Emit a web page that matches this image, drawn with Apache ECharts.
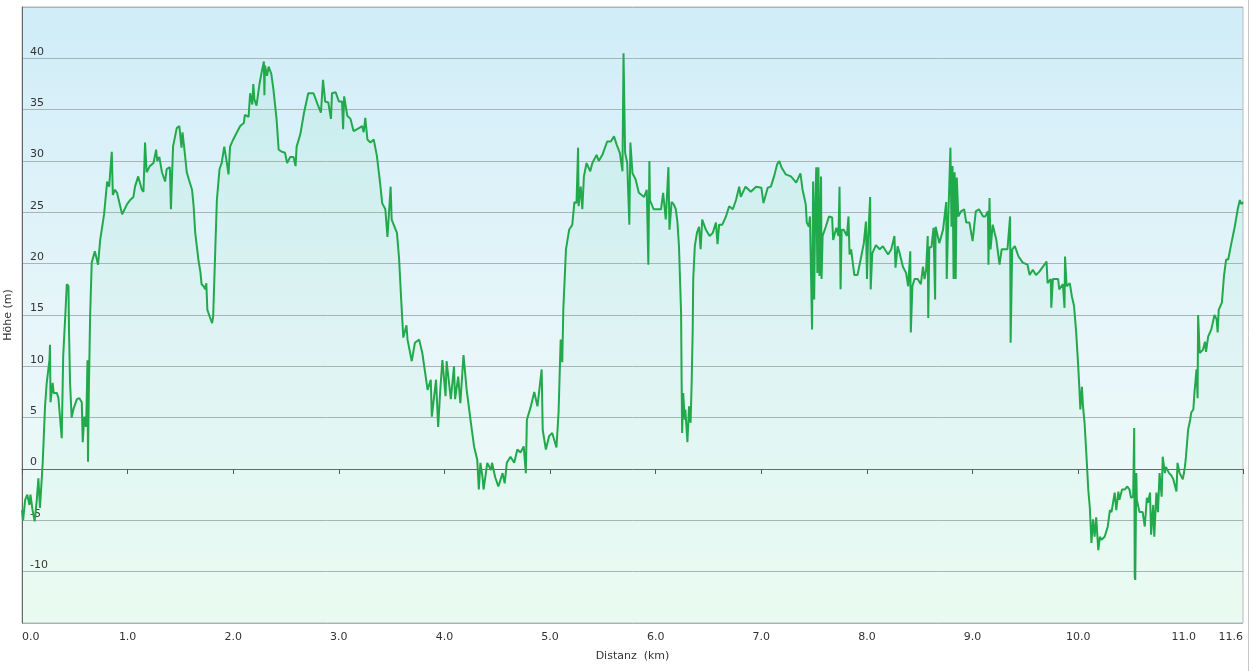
<!DOCTYPE html>
<html>
<head>
<meta charset="utf-8">
<title>Höhenprofil</title>
<script src="https://cdn.jsdelivr.net/npm/echarts@6/dist/echarts.min.js"></script>
<style>
  html, body { margin: 0; padding: 0; background: #fff; }
  #profile { width: 1251px; height: 671px; }
</style>
</head>
<body>
<div id="profile"></div>
<script>
// distance along the track (km)
const distKm = [
  0.00, 0.01, 0.03, 0.05, 0.07, 0.08, 0.10, 0.12, 0.14, 0.155, 0.17, 0.196, 0.218, 0.234, 0.26, 0.265, 0.27, 0.29, 0.30, 0.33,
  0.345, 0.376, 0.39, 0.414, 0.424, 0.44, 0.445, 0.455, 0.47, 0.486, 0.52, 0.543, 0.566, 0.575, 0.59, 0.607, 0.613, 0.62, 0.625, 0.632,
  0.645, 0.66, 0.69, 0.72, 0.74, 0.777, 0.806, 0.825, 0.85, 0.86, 0.88, 0.90, 0.948, 0.995, 1.024, 1.055, 1.07, 1.10, 1.135, 1.15,
  1.165, 1.18, 1.21, 1.245, 1.27, 1.28, 1.30, 1.325, 1.355, 1.37, 1.40, 1.41, 1.43, 1.465, 1.49, 1.51, 1.52, 1.545, 1.56, 1.58,
  1.61, 1.625, 1.64, 1.655, 1.67, 1.69, 1.70, 1.72, 1.735, 1.745, 1.755, 1.775, 1.80, 1.81, 1.83, 1.845, 1.87, 1.89, 1.915, 1.94,
  1.955, 1.97, 2.00, 2.035, 2.066, 2.10, 2.11, 2.145, 2.16, 2.18, 2.19, 2.20, 2.22, 2.25, 2.27, 2.29, 2.295, 2.30, 2.32, 2.335,
  2.36, 2.38, 2.41, 2.43, 2.46, 2.49, 2.51, 2.54, 2.57, 2.59, 2.60, 2.635, 2.67, 2.71, 2.76, 2.80, 2.83, 2.85, 2.87, 2.90,
  2.925, 2.935, 2.97, 3.00, 3.03, 3.04, 3.05, 3.08, 3.11, 3.14, 3.19, 3.22, 3.235, 3.25, 3.27, 3.30, 3.33, 3.36, 3.39, 3.41,
  3.44, 3.46, 3.49, 3.50, 3.55, 3.57, 3.59, 3.61, 3.64, 3.65, 3.69, 3.72, 3.76, 3.79, 3.84, 3.87, 3.88, 3.92, 3.94, 3.96,
  3.98, 4.01, 4.02, 4.06, 4.09, 4.10, 4.13, 4.15, 4.18, 4.21, 4.25, 4.28, 4.31, 4.325, 4.34, 4.36, 4.37, 4.405, 4.44, 4.45,
  4.48, 4.51, 4.55, 4.57, 4.59, 4.625, 4.66, 4.69, 4.72, 4.75, 4.77, 4.78, 4.815, 4.85, 4.88, 4.92, 4.93, 4.96, 4.99, 5.02,
  5.06, 5.08, 5.10, 5.115, 5.125, 5.14, 5.15, 5.18, 5.21, 5.23, 5.25, 5.265, 5.27, 5.29, 5.305, 5.32, 5.345, 5.38, 5.40, 5.44,
  5.46, 5.495, 5.54, 5.575, 5.605, 5.63, 5.66, 5.685, 5.695, 5.71, 5.73, 5.75, 5.76, 5.78, 5.81, 5.84, 5.89, 5.915, 5.93, 5.94,
  5.945, 5.98, 6.05, 6.07, 6.095, 6.12, 6.13, 6.15, 6.17, 6.19, 6.205, 6.22, 6.24, 6.245, 6.25, 6.26, 6.275, 6.28, 6.30, 6.315,
  6.33, 6.34, 6.35, 6.355, 6.37, 6.39, 6.41, 6.425, 6.44, 6.475, 6.51, 6.54, 6.57, 6.585, 6.60, 6.63, 6.665, 6.695, 6.73, 6.76,
  6.79, 6.805, 6.85, 6.90, 6.95, 7.00, 7.02, 7.06, 7.09, 7.12, 7.15, 7.17, 7.19, 7.23, 7.28, 7.33, 7.37, 7.39, 7.42, 7.43,
  7.45, 7.46, 7.48, 7.49, 7.50, 7.51, 7.52, 7.53, 7.54, 7.55, 7.565, 7.57, 7.58, 7.61, 7.64, 7.67, 7.68, 7.71, 7.73, 7.74,
  7.75, 7.76, 7.78, 7.81, 7.825, 7.835, 7.85, 7.88, 7.91, 7.94, 7.97, 7.99, 8.00, 8.01, 8.03, 8.035, 8.05, 8.085, 8.12, 8.15,
  8.20, 8.23, 8.26, 8.27, 8.29, 8.31, 8.34, 8.37, 8.39, 8.41, 8.415, 8.43, 8.45, 8.48, 8.51, 8.53, 8.545, 8.56, 8.575, 8.58,
  8.59, 8.61, 8.63, 8.645, 8.65, 8.685, 8.72, 8.75, 8.755, 8.77, 8.79, 8.80, 8.81, 8.82, 8.83, 8.84, 8.85, 8.865, 8.89, 8.92,
  8.94, 8.97, 9.00, 9.03, 9.06, 9.10, 9.12, 9.145, 9.15, 9.16, 9.17, 9.19, 9.225, 9.255, 9.275, 9.295, 9.33, 9.355, 9.36, 9.375,
  9.40, 9.435, 9.475, 9.52, 9.54, 9.57, 9.60, 9.63, 9.68, 9.70, 9.71, 9.74, 9.745, 9.76, 9.81, 9.82, 9.855, 9.87, 9.875, 9.89,
  9.92, 9.94, 9.96, 9.98, 10.00, 10.01, 10.02, 10.035, 10.045, 10.06, 10.08, 10.095, 10.11, 10.125, 10.14, 10.155, 10.17, 10.19, 10.205, 10.22,
  10.25, 10.28, 10.30, 10.315, 10.345, 10.36, 10.38, 10.39, 10.415, 10.44, 10.465, 10.485, 10.50, 10.52, 10.53, 10.535, 10.54, 10.55, 10.555, 10.58,
  10.61, 10.63, 10.65, 10.66, 10.68, 10.69, 10.71, 10.72, 10.74, 10.755, 10.77, 10.79, 10.80, 10.82, 10.83, 10.86, 10.88, 10.90, 10.93, 10.94,
  10.96, 10.99, 11.01, 11.02, 11.04, 11.06, 11.07, 11.09, 11.10, 11.12, 11.13, 11.135, 11.15, 11.18, 11.20, 11.21, 11.23, 11.26, 11.29, 11.31,
  11.32, 11.33, 11.36, 11.38, 11.40, 11.42, 11.45, 11.48, 11.51, 11.53, 11.545, 11.56
];

// elevation (m)
const elevM = [
  -4, -5, -3, -2.5, -3.5, -2.5, -4, -5.1, -3, -0.9, -3.8, 0.6, 6.1, 8.4, 10.6, 12.1, 6.5, 8.4, 7.4, 7.4,
  6.9, 3.0, 11, 15.8, 18, 17.8, 13.6, 8.4, 5.0, 5.8, 6.8, 6.9, 6.5, 2.6, 5.1, 4.1, 6.9, 10.6, 0.7, 7.1,
  14.9, 20.1, 21.2, 19.9, 22.3, 24.8, 28, 27.5, 30.9, 26.7, 27.2, 26.9, 24.8, 25.8, 26.2, 26.5, 27.5, 28.5, 27.2, 27,
  31.8, 28.9, 29.5, 29.8, 31.1, 30, 30.4, 28.9, 28, 29.2, 29.4, 25.3, 31.4, 33.2, 33.4, 31.3, 32.8, 30.4, 28.9, 28.2,
  27.2, 25.6, 23, 21.7, 20.4, 19.1, 18, 17.8, 17.5, 18.1, 15.5, 14.9, 14.2, 14.9, 21.4, 26.2, 29.2, 29.8, 31.4, 29.8,
  28.7, 31.4, 32.1, 32.8, 33.4, 33.7, 34.5, 34.3, 36.6, 35.5, 37.5, 36, 35.4, 37.6, 38.7, 39.7, 36.4, 39.3, 38.3, 39.2,
  38.5, 37.0, 34.1, 31.1, 30.9, 30.8, 29.8, 30.4, 30.4, 29.5, 31.4, 32.6, 34.7, 36.6, 36.6, 35.5, 34.7, 37.9, 35.8, 35.7,
  34.1, 36.6, 36.7, 35.8, 35.8, 33.1, 36.3, 34.4, 34.1, 32.9, 33.2, 33.4, 32.8, 34.2, 32.1, 31.8, 32.1, 30.5, 27.9, 25.9,
  25.3, 22.6, 27.5, 24.3, 23, 20.5, 16.5, 12.8, 14.0, 12.6, 10.5, 12.3, 12.6, 11.3, 7.7, 8.7, 5.1, 8.7, 4.1, 7.7,
  10.6, 7.1, 10.5, 6.8, 10.0, 6.8, 9.0, 6.4, 11.1, 7.7, 4.5, 2.2, 0.9, -2, 0.6, -0.8, -2, 0.6, -0.1, 0.6,
  -0.8, -1.7, -0.4, -1.4, 0.6, 1.2, 0.6, 1.9, 1.6, 2.2, -0.4, 4.8, 6.0, 7.5, 6.1, 9.7, 3.8, 1.9, 3.2, 3.5,
  2.1, 5.5, 12.6, 10.4, 15.6, 19, 21.4, 23.3, 23.8, 26.0, 25.9, 31.3, 25.6, 27.5, 25.3, 28.5, 29.8, 29, 29.8, 30.6,
  30, 30.6, 31.9, 31.9, 32.4, 31.6, 30.8, 29, 40.5, 30.8, 29.8, 23.8, 31.8, 28.8, 28.2, 26.9, 26.5, 27.2, 19.9, 30,
  26.2, 25.3, 25.3, 26.9, 24.3, 29.4, 23.3, 26, 25.8, 25.3, 24.1, 21.7, 15.2, 8.7, 3.5, 7.4, 4.8, 5.8, 2.6, 6.1,
  4.5, 8.4, 13.6, 18.5, 21.7, 23, 23.6, 21.4, 24.3, 23.3, 22.7, 23, 24, 21.9, 23.8, 23.8, 24.6, 25.6, 25.3, 26.2,
  27.5, 26.5, 27.5, 27, 27.5, 27.4, 25.9, 27.4, 27.5, 28.5, 29.7, 30, 29.4, 28.7, 28.5, 27.9, 28.8, 27.2, 25.8, 24,
  23.6, 24.6, 13.6, 28, 16.5, 25.6, 29.4, 19.1, 29.4, 18.8, 28.5, 18.5, 22.7, 23.6, 24.6, 24.5, 22.3, 23.5, 22.7, 27.5,
  17.5, 23.3, 23.3, 22.7, 24.6, 20.9, 21.4, 18.9, 18.9, 20.4, 22, 24.1, 18.5, 22.3, 26.5, 17.5, 21, 21.8, 21.4, 21.7,
  20.9, 21.4, 22.7, 19.6, 21.7, 21, 19.7, 19.1, 17.8, 21.2, 13.3, 17.8, 18.5, 18.5, 18, 19.7, 18.5, 19.4, 22.7, 14.7,
  21.6, 21.6, 23.5, 16.5, 23.6, 22, 23.3, 26, 18.5, 24.6, 31.3, 23.6, 29.5, 18.5, 28.9, 18.5, 28.4, 24.6, 25.1, 25.3,
  24, 24, 22.2, 25.1, 25.3, 24.6, 24.6, 25.1, 19.9, 26.4, 21.4, 23.8, 22.3, 19.9, 21.4, 21.4, 21.4, 24.6, 12.3, 21.4,
  21.7, 20.7, 20.1, 19.9, 18.9, 19.4, 18.9, 19.2, 19.9, 20.2, 18.1, 18.5, 15.7, 18.5, 18.5, 17.5, 18, 15.7, 20.7, 17.8,
  18.1, 16.8, 15.9, 13.4, 10, 8.0, 5.8, 8.0, 6.1, 4.5, 0.9, -2.0, -3.8, -7.2, -4.9, -6.6, -4.7, -7.9, -6.6, -6.9,
  -6.6, -5.6, -4, -4.2, -2.3, -4, -2.2, -3, -2, -2, -1.7, -2, -2.8, -2.7, 4.0, -10.5, -10.8, -0.4, -3, -4.2,
  -4.2, -5.6, -2.8, -3.3, -2.3, -6.4, -3.5, -6.6, -2.3, -4.2, -0.4, -2.7, 1.2, -0.4, 0.2, -0.4, -0.6, -1, -2.2, 0.6,
  -0.4, -1, 0.2, 1.2, 3.8, 4.8, 5.5, 5.8, 7.4, 9.7, 6.9, 15, 11.3, 11.6, 12.4, 11.4, 12.9, 13.6, 15, 14.6,
  13.3, 15.5, 16.2, 18.8, 20.4, 20.4, 22, 23.5, 25.3, 26.2, 25.8, 26
];

// axis settings
const yTicks = [-10, -5, 0, 5, 10, 15, 20, 25, 30, 35, 40];
const yMin = -15, yMax = 45;
const xMax = 11.56;

const chart = echarts.init(document.getElementById('profile'));
const font = 'DejaVu Sans';

chart.setOption({
  animation: false,
  backgroundColor: '#fff',
  grid: {
    left: 22, right: 8, top: 7, bottom: 48,
    outerBoundsMode: 'none',
    containLabel: false,
    show: true,
    borderColor: '#b8b8b8',
    borderWidth: 1,
    backgroundColor: new echarts.graphic.LinearGradient(0, 0, 0, 1, [
      { offset: 0, color: '#d0edf8' },
      { offset: 0.55, color: '#e8f6fa' },
      { offset: 1, color: '#eefcf4' }
    ])
  },
  xAxis: {
    type: 'value',
    min: 0,
    max: xMax,
    interval: 1,
    name: 'Distanz  (km)',
    nameLocation: 'middle',
    nameGap: 28,
    nameTextStyle: { fontFamily: font, fontSize: 11, color: '#333' },
    axisLine: { lineStyle: { color: '#666', width: 1 } },
    axisTick: { show: true, length: 5, lineStyle: { color: '#555' } },
    axisLabel: {
      fontFamily: font, fontSize: 11, color: '#333', margin: 9,
      showMinLabel: true, showMaxLabel: true,
      alignMinLabel: 'left', alignMaxLabel: 'right',
      formatter: v => v.toFixed(1)
    },
    splitLine: { show: false }
  },
  yAxis: {
    type: 'value',
    min: yMin,
    max: yMax,
    interval: 5,
    name: 'Höhe (m)',
    nameLocation: 'middle',
    nameGap: -5,
    nameRotate: 90,
    nameTextStyle: { fontFamily: font, fontSize: 11, color: '#333' },
    axisLine: { show: true, lineStyle: { color: '#666', width: 1 } },
    axisTick: { show: false },
    axisLabel: {
      inside: true,
      margin: 8,
      fontFamily: font, fontSize: 11, color: '#333',
      verticalAlign: 'bottom',
      padding: [0, 0, 1, 0],
      formatter: v => (yTicks.indexOf(v) >= 0 ? String(v) : '')
    },
    splitLine: { show: true, lineStyle: { color: '#aab4b8', width: 1 } }
  },
  graphic: [{
    type: 'line',
    shape: { x1: 1248.5, y1: 0, x2: 1248.5, y2: 671 },
    style: { stroke: '#c8c8c8', lineWidth: 1 },
    silent: true
  }],
  series: [{
    type: 'line',
    data: distKm.map((d, i) => [d, elevM[i]]),
    showSymbol: false,
    smooth: false,
    lineStyle: { color: '#22a94b', width: 2 },
    itemStyle: { color: '#22a94b' },
    areaStyle: {
      origin: 'start',
      color: new echarts.graphic.LinearGradient(0, 0, 0, 1, [
        { offset: 0, color: 'rgba(80, 210, 140, 0.14)' },
        { offset: 1, color: 'rgba(80, 210, 140, 0.04)' }
      ])
    }
  }]
});
</script>
</body>
</html>
